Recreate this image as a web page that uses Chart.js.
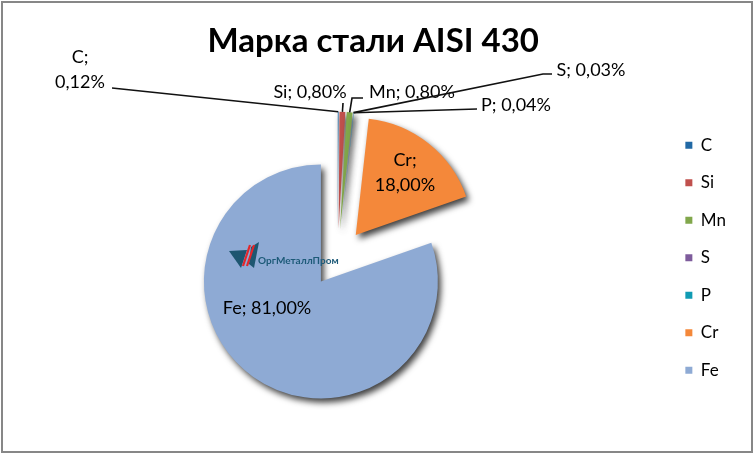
<!DOCTYPE html>
<html>
<head>
<meta charset="utf-8">
<script src="https://cdn.jsdelivr.net/npm/chart.js@4.4.0/dist/chart.umd.min.js"></script>
<style>
  body { margin: 0; background: #fff; }
  #wrap { width: 754px; height: 454px; position: relative; }
</style>
</head>
<body>
<div id="wrap"><canvas id="steel-chart"></canvas></div>
<script>
// Марка стали AISI 430 - химический состав
const elements = ['C', 'Si', 'Mn', 'S', 'P', 'Cr', 'Fe'];
const percents = [0.12, 0.80, 0.80, 0.03, 0.04, 18.00, 81.00];
const sliceColors = ['#2169a5', '#c0504d', '#81a74b', '#7e5c9c', '#109bb3', '#f4883a', '#8eaad4'];

const EXPLODE = 29;
const FONT = 'Lato, "Open Sans", sans-serif';

// where Excel put the data labels (text centres) and the elbows of their leader lines
const labelLayout = {
    C:  { x: 80,  y: [57, 82], line: [[112, 88]] },
    Si: { x: 310, y: [92],     line: [[343, 103]] },
    Mn: { x: 412, y: [92],     line: [[363, 98], [352, 98]] },
    S:  { x: 591, y: [70],     line: [[552, 74], [543, 74]] },
    P:  { x: 516, y: [105],    line: [[477, 109]] },
    Cr: { x: 405, y: [160, 185] },
    Fe: { x: 267, y: [308] }
};

function labelText(i) {
    const pct = percents[i].toFixed(2).replace('.', ',') + '%';
    const lines = labelLayout[elements[i]].y.length;
    return lines > 1 ? [elements[i] + ';', pct] : [elements[i] + '; ' + pct];
}

const framePlugin = {
    id: 'frame',
    beforeDraw(chart) {
        const ctx = chart.ctx;
        ctx.save();
        ctx.fillStyle = '#fff';
        ctx.fillRect(0, 0, chart.width, chart.height);
        ctx.strokeStyle = '#878787';
        ctx.lineWidth = 2;
        ctx.strokeRect(2, 2, chart.width - 4, chart.height - 4);
        ctx.restore();
    }
};

// draw every slice pulled out from the centre, with a drop shadow
const explodePlugin = {
    id: 'explode',
    beforeDatasetDraw(chart, args) {
        const ctx = chart.ctx;
        args.meta.data.forEach(arc => {
            const mid = (arc.startAngle + arc.endAngle) / 2;
            ctx.save();
            ctx.shadowColor = 'rgba(0,0,0,0.75)';
            ctx.shadowBlur = 6;
            ctx.shadowOffsetX = 3;
            ctx.shadowOffsetY = 4;
            ctx.translate(Math.cos(mid) * EXPLODE, Math.sin(mid) * EXPLODE);
            arc.draw(ctx, chart.chartArea);
            ctx.restore();
        });
        return false;
    }
};

const watermarkPlugin = {
    id: 'watermark',
    afterDatasetsDraw(chart) {
        const ctx = chart.ctx;
        ctx.save();
        ctx.fillStyle = '#1d5670';
        ctx.beginPath();
        ctx.moveTo(229, 251);
        ctx.lineTo(247, 250);
        ctx.lineTo(241, 268);
        ctx.closePath();
        ctx.fill();
        ctx.beginPath();
        ctx.moveTo(251, 247);
        ctx.lineTo(259, 242);
        ctx.lineTo(254, 268);
        ctx.lineTo(249, 264);
        ctx.closePath();
        ctx.fill();
        ctx.strokeStyle = '#e3262b';
        ctx.lineWidth = 2.2;
        ctx.beginPath();
        ctx.moveTo(243, 266); ctx.lineTo(250, 245);
        ctx.moveTo(247, 266); ctx.lineTo(254, 245);
        ctx.stroke();
        ctx.fillStyle = '#1d5a78';
        ctx.font = 'bold 10px ' + FONT;
        ctx.textBaseline = 'alphabetic';
        ctx.fillText('ОргМеталлПром', 258, 264);
        ctx.restore();
    }
};

const labelsPlugin = {
    id: 'sliceLabels',
    afterDatasetsDraw(chart) {
        const ctx = chart.ctx;
        const arcs = chart.getDatasetMeta(0).data;
        ctx.save();
        arcs.forEach((arc, i) => {
            const lay = labelLayout[elements[i]];
            if (lay.line) {
                const mid = (arc.startAngle + arc.endAngle) / 2;
                const r = arc.outerRadius + EXPLODE;
                ctx.strokeStyle = '#111';
                ctx.lineWidth = 1.6;
                ctx.beginPath();
                ctx.moveTo(lay.line[0][0], lay.line[0][1]);
                lay.line.slice(1).forEach(p => ctx.lineTo(p[0], p[1]));
                ctx.lineTo(arc.x + Math.cos(mid) * r, arc.y + Math.sin(mid) * r);
                ctx.stroke();
            }
            ctx.fillStyle = '#000';
            ctx.font = '18px ' + FONT;
            ctx.textAlign = 'center';
            ctx.textBaseline = 'middle';
            labelText(i).forEach((t, k) => ctx.fillText(t, lay.x, lay.y[k]));
        });
        ctx.restore();
    }
};

new Chart(document.getElementById('steel-chart').getContext('2d'), {
    type: 'pie',
    data: {
        labels: elements,
        datasets: [{
            data: percents,
            backgroundColor: sliceColors,
            borderWidth: 0
        }]
    },
    options: {
        responsive: true,
        maintainAspectRatio: false,
        animation: false,
        radius: 117,
        layout: {
            padding: { left: 10.5, right: 18, top: 0, bottom: 0 }
        },
        plugins: {
            title: {
                display: true,
                text: 'Марка стали AISI 430',
                color: '#000',
                font: { family: FONT, size: 33, weight: 'bold' },
                padding: { top: 22, bottom: 0 }
            },
            legend: {
                position: 'right',
                fullSize: false,
                labels: {
                    boxWidth: 7,
                    boxHeight: 7,
                    padding: 20.5,
                    color: '#000',
                    font: { family: FONT, size: 17 }
                }
            },
            tooltip: { enabled: false }
        }
    },
    plugins: [framePlugin, explodePlugin, watermarkPlugin, labelsPlugin]
});
</script>
</body>
</html>
